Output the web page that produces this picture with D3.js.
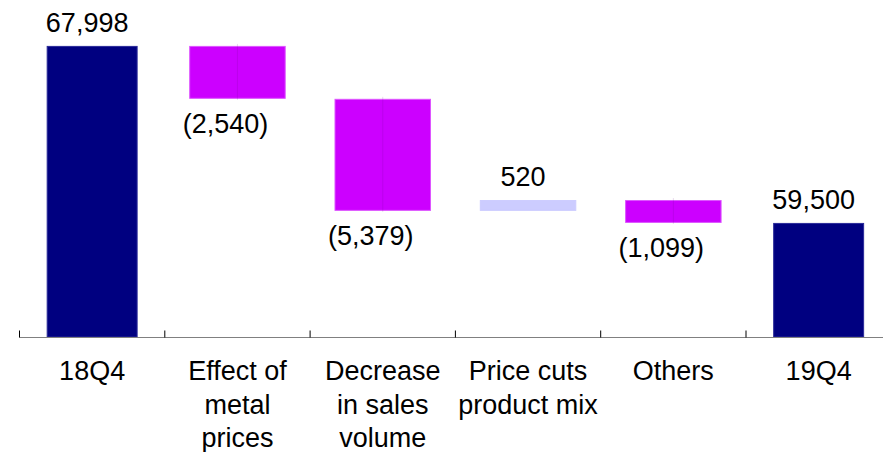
<!DOCTYPE html>
<html>
<head>
<meta charset="utf-8">
<script src="https://cdn.jsdelivr.net/npm/d3@7"></script>
<style>
  body { margin: 0; background: #fff; }
  text { font-family: "Liberation Sans", Arial, sans-serif; fill: #000; }
</style>
</head>
<body>
<div class="chart"></div>
<script>
// waterfall: 18Q4 -> 19Q4

const categories = ['18Q4', 'Effect of|metal|prices', 'Decrease|in sales|volume', 'Price cuts|product mix', 'Others', '19Q4']
const values = [67998, -2540, -5379, 520, -1099, 59500]
const kinds = ['total', 'change', 'change', 'change', 'change', 'total']
const yTicks = [54000, 70000] // axis domain

const width = 883
const height = 452
const baseY = 337.5

const svg = d3.select('.chart')
  .append('svg')
    .attr('width', width)
    .attr('height', height)

const xScale = d3.scaleBand()
  .domain(categories)
  .range([19.5, 19.5 + 6 * 145.3])
  .padding(0)

const yScale = d3.scaleLinear()
  .domain(yTicks)
  .range([baseY, 4.2])

// running totals for floating bars
let run = 0
const bars = categories.map((c, i) => {
  let lo, hi
  if (kinds[i] === 'total') {
    lo = yTicks[0]; hi = values[i]; run = values[i]
  } else {
    const next = run + values[i]
    lo = Math.min(run, next); hi = Math.max(run, next); run = next
  }
  return { cat: c, value: values[i], kind: kinds[i], lo, hi }
})

const color = d => d.kind === 'total' ? '#000080' : (d.value < 0 ? '#cc00ff' : '#ccccff')
const edge = d => d.kind === 'total' ? '#2a2a99' : (d.value < 0 ? '#dd55ff' : '#ccccff')
const barW = d => xScale.bandwidth() * (d.kind === 'total' ? 0.626 : 0.664)
const cx = d => xScale(d.cat) + xScale.bandwidth() / 2

svg.selectAll('rect.bar')
  .data(bars)
  .enter().append('rect')
    .attr('class', 'bar')
    .attr('x', d => cx(d) - barW(d) / 2 + 0.5)
    .attr('y', d => yScale(d.hi) + 0.5)
    .attr('width', d => barW(d) - 1)
    .attr('height', d => yScale(d.lo) - yScale(d.hi) - 1)
    .style('fill', color)
    .style('stroke', edge)
    .style('stroke-width', 1)

// faint centre line on the falling bars
svg.selectAll('line.mid')
  .data(bars.filter(d => d.kind === 'change' && d.value < 0))
  .enter().append('line')
    .attr('x1', cx).attr('x2', cx)
    .attr('y1', d => yScale(d.hi) - 2)
    .attr('y2', d => yScale(d.lo) + 1)
    .style('stroke', '#660080')
    .style('stroke-opacity', 0.15)

// value labels
const fmt = d3.format(',')
svg.selectAll('text.val')
  .data(bars)
  .enter().append('text')
    .attr('class', 'val')
    .attr('text-anchor', 'middle')
    .attr('font-size', 27)
    .attr('x', d => cx(d) + (d.value < 0 ? -12 : -5))
    .attr('y', d => d.value < 0 ? yScale(d.lo) + 34 : yScale(d.hi) - 14)
    .text(d => d.value < 0 ? `(${fmt(-d.value)})` : fmt(d.value))

// x axis
const xAxis = d3.axisBottom(xScale).tickSize(0).tickFormat('')
const axisG = svg.append('g')
  .attr('transform', `translate(0, ${baseY})`)
  .call(xAxis)
axisG.select('.domain').style('stroke', '#808080').attr('d', `M19.5,0H${width}`)

// category boundary ticks pointing up
axisG.selectAll('line.sep')
  .data(categories)
  .enter().append('line')
    .attr('class', 'sep')
    .attr('x1', d => xScale(d)).attr('x2', d => xScale(d))
    .attr('y1', -7).attr('y2', 0)
    .style('stroke', '#000')

// wrapped category labels
svg.selectAll('text.cat')
  .data(categories)
  .enter().append('text')
    .attr('class', 'cat')
    .attr('text-anchor', 'middle')
    .attr('font-size', 27)
    .attr('x', d => xScale(d) + xScale.bandwidth() / 2)
    .attr('y', 380)
  .each(function (d) {
    d3.select(this).selectAll('tspan')
      .data(d.split('|'))
      .enter().append('tspan')
        .attr('x', d3.select(this).attr('x'))
        .attr('dy', (s, i) => i === 0 ? 0 : 33.5)
        .text(s => s)
  })
</script>
</body>
</html>
